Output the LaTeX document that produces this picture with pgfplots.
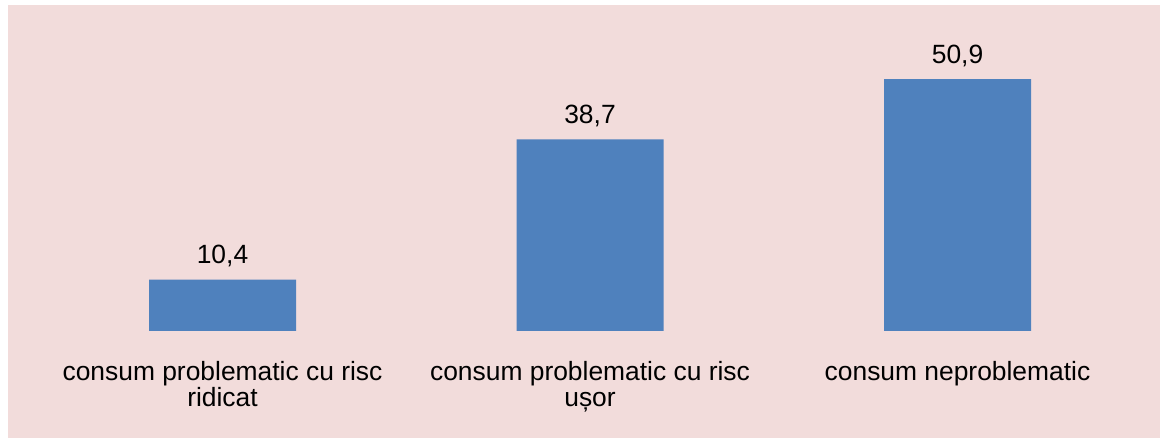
\documentclass[border=0pt]{standalone}
\usepackage{fontspec}
\setmainfont{Liberation Sans}
\usepackage{pgfplots}
\pgfplotsset{compat=1.18}
\definecolor{bgpink}{HTML}{F2DCDB}
\definecolor{barblue}{HTML}{4F81BD}
\begin{document}
\begin{tikzpicture}
\path[use as bounding box] (0,0) rectangle (580pt,219pt);
\fill[bgpink] (4pt,0) rectangle (580pt,216.5pt);
\begin{axis}[
  at={(19.375pt,53.5pt)}, anchor=south west,
  scale only axis, width=551.25pt, height=148.5pt,
  xmin=-0.5, xmax=2.5, ymin=0, ymax=60,
  clip=false,
  axis line style={draw=none},
  major tick length=0pt,
  ytick=\empty,
  xtick={0,1,2},
  xticklabels={{consum problematic cu risc\\ridicat},{consum problematic cu risc\\ușor},{consum neproblematic}},
  xticklabel style={anchor=north, inner sep=0pt, yshift=-15pt, align=center, font=\fontsize{13.2}{13}\selectfont},
  ybar, bar width=73.5pt,
  point meta=explicit symbolic,
  nodes near coords,
  every node near coord/.append style={anchor=base, inner sep=0pt, yshift=8pt, font=\fontsize{13.2}{13}\selectfont, text=black},
]
\addplot[fill=barblue, draw=none] coordinates {(0,10.4)[10,4] (1,38.7)[38,7] (2,50.9)[50,9]};
\end{axis}
\end{tikzpicture}
\end{document}
